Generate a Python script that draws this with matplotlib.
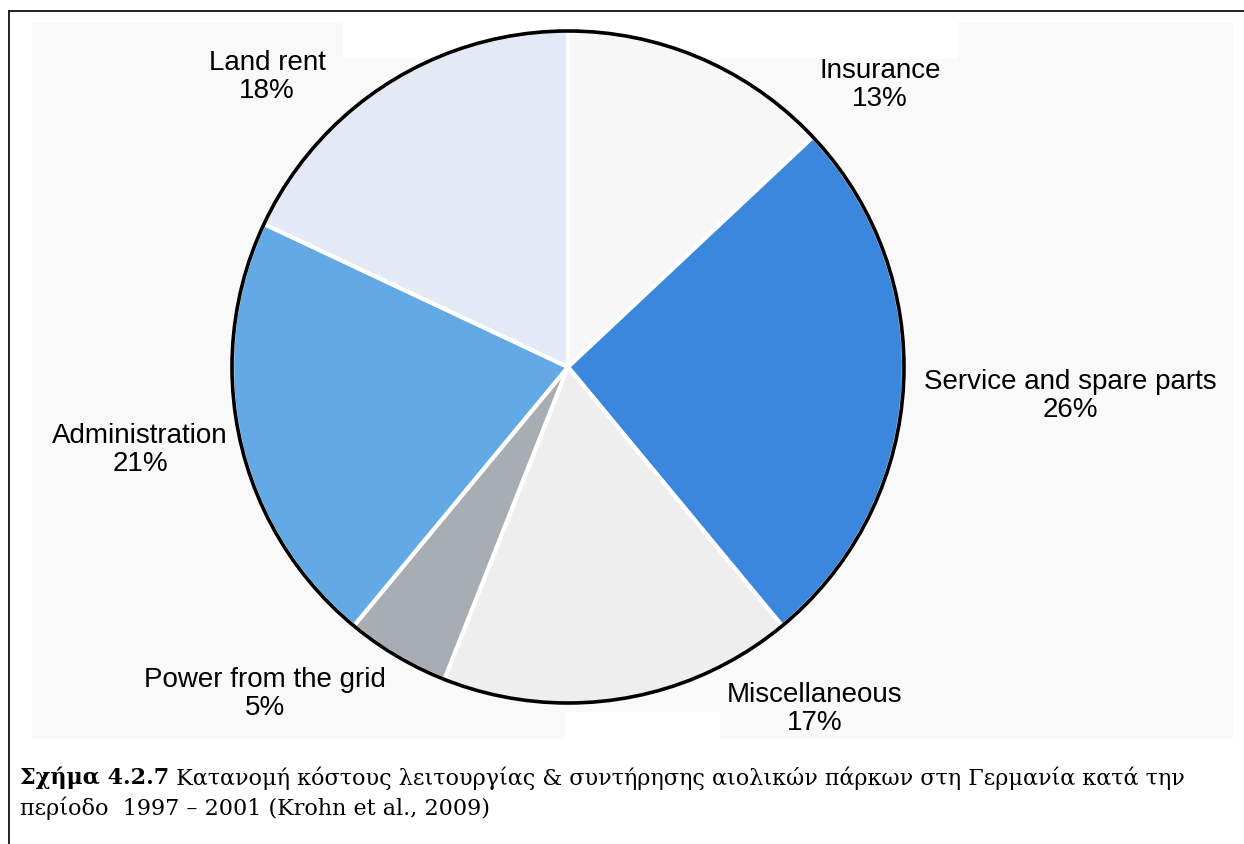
import matplotlib.pyplot as plt
import matplotlib.patches as mpatches
from matplotlib.lines import Line2D

# O&M cost shares, clockwise from 12 o'clock
categories = ["Insurance", "Service and spare parts", "Miscellaneous",
              "Power from the grid", "Administration", "Land rent"]
shares = [13, 26, 17, 5, 21, 18]
colors = ["#f7f7f7", "#3a87dd", "#eeeeee", "#a8adb4", "#62a9e6", "#e3eaf5"]

caption_bold = "Σχήμα 4.2.7"
caption_rest = (" Κατανομή κόστους λειτουργίας & συντήρησης αιολικών πάρκων "
                "στη Γερμανία κατά την")
caption_line2 = "περίοδο  1997 – 2001 (Krohn et al., 2009)"

W, H = 1244, 845
fig = plt.figure(figsize=(W / 100, H / 100), dpi=100)
ax = fig.add_axes([0, 0, 1, 1])


def fy(y):
    # image-style y (from top) to axis y
    return H - y


cx, cy, r = 568, fy(368), 336
wedges, _ = ax.pie(shares, colors=colors, startangle=90, counterclock=False,
                   center=(cx, cy), radius=r, frame=True,
                   wedgeprops=dict(edgecolor="white", linewidth=3, zorder=2))
ax.set_xlim(0, W)
ax.set_ylim(0, H)
ax.set_aspect("equal")
ax.axis("off")
ax.add_patch(mpatches.Circle((cx, cy), r, facecolor="none", edgecolor="black",
                             linewidth=2.6, zorder=5))

# panel behind the chart
ax.add_patch(mpatches.Rectangle((32, fy(740)), 1201, 717, facecolor="#f9f9f9",
                                edgecolor="none", zorder=0))
ax.add_patch(mpatches.Rectangle((343, fy(60)), 615, 37, facecolor="white",
                                edgecolor="none", zorder=0))
ax.add_patch(mpatches.Rectangle((565, fy(740)), 155, 27, facecolor="white",
                                edgecolor="none", zorder=0))

# outer frame (left and top only)
ax.add_line(Line2D([9, 9], [0, fy(12)], color="#222222", lw=1.4))
ax.add_line(Line2D([9, W], [fy(12), fy(12)], color="#222222", lw=1.4))

label_pos = [(880, 85), (1070, 396), (815, 709), (265, 694), (140, 450), (267, 77)]
for name, val, (lx, ly) in zip(categories, shares, label_pos):
    ax.text(lx, fy(ly), f"{name}\n{val}%", ha="center", va="center",
            fontsize=20, linespacing=1.08,
            family=["Liberation Sans", "DejaVu Sans"],
            color="black", zorder=6)

cap_font = ["DejaVu Serif"]
t = ax.text(20, fy(778), caption_bold, ha="left", va="center", fontsize=16,
            fontweight="bold", family=cap_font)
fig.canvas.draw()
bb = t.get_window_extent()
ax.text(bb.x1, fy(778), caption_rest, ha="left", va="center", fontsize=16,
        family=cap_font)
ax.text(20, fy(808), caption_line2, ha="left", va="center", fontsize=16,
        family=cap_font)

fig.savefig("out.png", dpi=100)
